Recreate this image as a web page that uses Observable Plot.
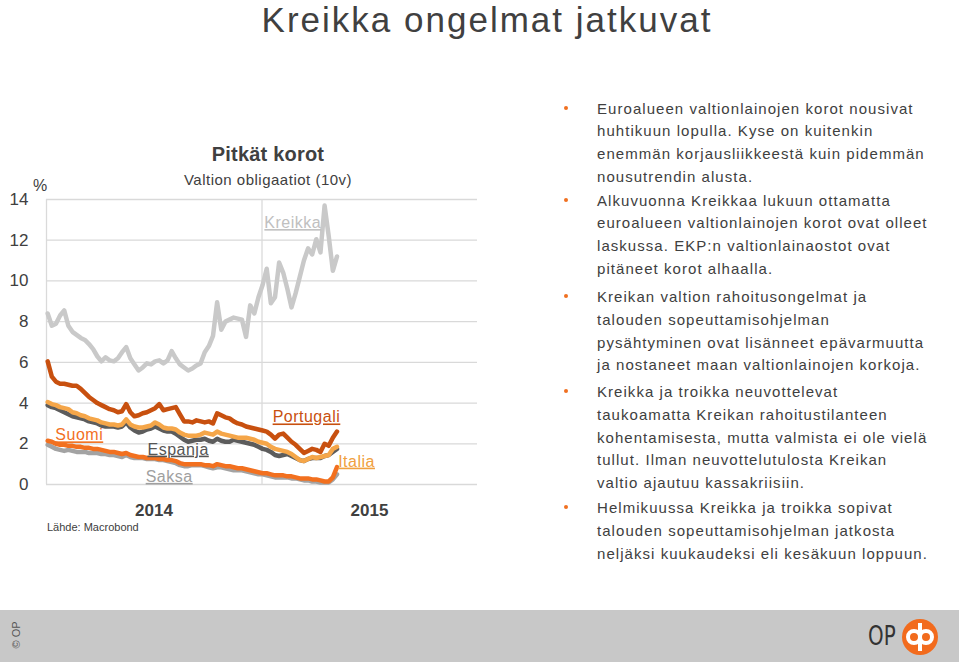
<!DOCTYPE html>
<html><head><meta charset="utf-8">
<script src="https://cdn.jsdelivr.net/npm/d3@7"></script>
<script src="https://cdn.jsdelivr.net/npm/@observablehq/plot@0.6"></script>
<style>
body{margin:0;background:#fff;font-family:"Liberation Sans",Arial,sans-serif;color:#404040;}
#page{position:relative;width:959px;height:662px;overflow:hidden;background:#fff;}
.abs{position:absolute;white-space:nowrap;}
#title{left:0;width:974px;top:0;text-align:center;font-size:35px;line-height:39px;color:#404040;letter-spacing:2px;}
#ctitle{left:148px;width:240px;top:142px;text-align:center;font-size:20px;font-weight:bold;line-height:24px;letter-spacing:0.2px;}
#csub{left:148px;width:240px;top:171px;text-align:center;font-size:15px;line-height:18px;letter-spacing:0.5px;}
#pct{left:33px;top:176px;font-size:16px;line-height:20px;}
#src{left:47px;top:520px;font-size:11px;line-height:14px;}
#chart{left:0;top:130px;}
.para{position:absolute;left:597px;font-size:15px;line-height:22.8px;letter-spacing:1.05px;color:#404040;white-space:nowrap;}
.para::before{content:"";position:absolute;left:-33px;top:8px;width:4px;height:4px;border-radius:2px;background:#f07020;}
#footer{left:0;top:610px;width:959px;height:52px;background:#c8c8c8;}
#copy{left:-6px;top:628px;width:44px;text-align:center;font-size:11px;color:#555;transform:rotate(-90deg);line-height:14px;}
#optext{left:868px;top:621px;font-family:"Liberation Sans Narrow","DejaVu Sans Condensed",sans-serif;font-size:26px;line-height:30px;color:#333;transform:scaleX(0.85);transform-origin:left center;}
#logo{left:900px;top:617px;}
svg text.lbl{text-decoration:underline dotted;}
</style>
</head><body>
<div id="page">
  <div id="title" class="abs">Kreikka ongelmat jatkuvat</div>
  <div id="ctitle" class="abs">Pitkät korot</div>
  <div id="csub" class="abs">Valtion obligaatiot (10v)</div>
  <div id="pct" class="abs">%</div>
  <div id="chart" class="abs"></div>
  <div id="src" class="abs">Lähde: Macrobond</div>

  <div class="para" style="top:97.5px">Euroalueen valtionlainojen korot nousivat<br>huhtikuun lopulla. Kyse on kuitenkin<br>enemmän korjausliikkeestä kuin pidemmän<br>nousutrendin alusta.</div>
  <div class="para" style="top:189.5px">Alkuvuonna Kreikkaa lukuun ottamatta<br>euroalueen valtionlainojen korot ovat olleet<br>laskussa. EKP:n valtionlainaostot ovat<br>pitäneet korot alhaalla.</div>
  <div class="para" style="top:286px">Kreikan valtion rahoitusongelmat ja<br>talouden sopeuttamisohjelman<br>pysähtyminen ovat lisänneet epävarmuutta<br>ja nostaneet maan valtionlainojen korkoja.</div>
  <div class="para" style="top:381px">Kreikka ja troikka neuvottelevat<br>taukoamatta Kreikan rahoitustilanteen<br>kohentamisesta, mutta valmista ei ole vielä<br>tullut. Ilman neuvottelutulosta Kreikan<br>valtio ajautuu kassakriisiin.</div>
  <div class="para" style="top:497px">Helmikuussa Kreikka ja troikka sopivat<br>talouden sopeuttamisohjelman jatkosta<br>neljäksi kuukaudeksi eli kesäkuun loppuun.</div>

  <div id="footer" class="abs"></div>
  <div id="copy" class="abs">© OP</div>
  <div id="optext" class="abs">OP</div>
  <svg id="logo" class="abs" width="40" height="40" viewBox="-20 -20 40 40">
    <circle r="18" fill="#f26b1d"/>
    <circle cx="-6" cy="0" r="6" fill="none" stroke="#fff" stroke-width="4"/>
    <circle cx="6" cy="0" r="6" fill="none" stroke="#fff" stroke-width="4"/>
    <rect x="-2" y="-14" width="4" height="28" fill="#fff"/>
  </svg>
</div>
<script>
// Weekly observations (Fridays), 2014-01-03 .. 2015-05-08
const startDate = "2014-01-03";
const endDate = "2015-05-09";

const kreikka = [8.4,7.8,7.9,8.3,8.55,7.8,7.5,7.35,7.2,7.1,6.9,6.65,6.3,6.05,6.25,6.1,6.05,6.2,6.5,6.75,6.2,5.9,5.6,5.75,5.95,5.9,6.05,6.1,5.95,6.1,6.55,6.2,5.9,5.75,5.6,5.7,5.85,5.95,6.5,6.8,7.3,8.95,7.6,8.0,8.1,8.2,8.15,8.1,7.25,8.8,8.4,9.2,9.8,10.6,8.9,9.2,10.9,10.4,9.6,8.7,9.4,10.2,11.0,11.6,11.3,12.05,11.4,13.7,12.2,10.5,11.2];
const portugali = [6.05,5.3,5.05,4.95,4.95,4.9,4.85,4.85,4.7,4.5,4.3,4.15,4.0,3.9,3.8,3.7,3.65,3.55,3.6,3.95,3.55,3.35,3.4,3.5,3.55,3.65,3.75,3.95,3.65,3.7,3.75,3.8,3.45,3.1,3.1,3.05,3.15,3.1,3.05,3.1,3.0,3.5,3.4,3.3,3.25,3.1,3.0,2.95,2.85,2.8,2.75,2.7,2.65,2.6,2.45,2.25,2.45,2.5,2.3,2.1,1.95,1.75,1.55,1.65,1.75,1.7,1.6,2.0,1.9,2.3,2.6];
const italia = [4.05,3.95,3.9,3.8,3.75,3.7,3.55,3.5,3.4,3.35,3.25,3.2,3.15,3.05,3.0,2.95,2.95,2.9,2.95,3.2,2.95,2.85,2.8,2.8,2.85,2.9,3.05,2.95,2.8,2.75,2.75,2.7,2.55,2.45,2.4,2.4,2.4,2.45,2.55,2.5,2.45,2.6,2.5,2.45,2.4,2.35,2.3,2.3,2.3,2.25,2.2,2.1,2.05,2.0,1.85,1.75,1.7,1.65,1.6,1.5,1.35,1.2,1.15,1.25,1.35,1.3,1.35,1.4,1.45,1.75,1.85];
const espanja = [3.9,3.8,3.75,3.65,3.55,3.45,3.35,3.3,3.25,3.2,3.1,3.05,3.0,2.9,2.85,2.85,2.85,2.8,2.85,3.05,2.8,2.65,2.55,2.6,2.7,2.75,2.85,2.75,2.65,2.6,2.6,2.5,2.35,2.2,2.1,2.15,2.2,2.2,2.25,2.15,2.1,2.25,2.15,2.1,2.1,2.2,2.15,2.1,2.05,2.0,1.95,1.85,1.75,1.7,1.6,1.45,1.4,1.45,1.5,1.4,1.3,1.2,1.15,1.25,1.3,1.3,1.3,1.4,1.45,1.6,1.75];
const suomi = [2.15,2.1,2.0,1.95,1.95,1.9,1.9,1.85,1.85,1.8,1.8,1.75,1.75,1.7,1.65,1.6,1.6,1.55,1.5,1.55,1.45,1.4,1.35,1.35,1.3,1.3,1.3,1.25,1.25,1.2,1.2,1.15,1.05,1.0,1.0,1.0,1.0,1.0,0.95,0.95,0.9,1.0,0.95,0.9,0.9,0.85,0.8,0.8,0.75,0.7,0.65,0.6,0.55,0.55,0.5,0.45,0.45,0.45,0.4,0.4,0.35,0.3,0.3,0.3,0.25,0.25,0.2,0.15,0.15,0.35,0.85];
const saksa = [1.95,1.85,1.75,1.7,1.65,1.7,1.65,1.6,1.6,1.6,1.55,1.55,1.55,1.5,1.5,1.45,1.45,1.4,1.35,1.45,1.35,1.3,1.3,1.3,1.25,1.25,1.25,1.2,1.2,1.15,1.1,1.05,0.95,0.9,0.9,0.95,0.95,0.95,0.9,0.85,0.8,0.85,0.85,0.8,0.75,0.7,0.7,0.7,0.65,0.6,0.55,0.5,0.5,0.45,0.4,0.35,0.35,0.35,0.35,0.3,0.3,0.25,0.2,0.2,0.15,0.15,0.1,0.1,0.1,0.25,0.5];

// drawing order (later on top)
const seriesNames = ["Saksa","Suomi","Espanja","Italia","Portugali","Kreikka"];
const seriesValues = [saksa, suomi, espanja, italia, portugali, kreikka];
const seriesColors = ["#a3a3a3","#f2701f","#5c5c5c","#f5a649","#c8500f","#c9c9c9"];

// series labels
const labelNames = ["Kreikka","Portugali","Italia","Espanja","Suomi","Saksa"];
const labelDates = ["2015-01-05","2015-01-19","2015-05-10","2014-06-21","2014-01-16","2014-06-18"];
const labelValues = [12.85,3.3,1.13,1.72,2.42,0.38];
const labelColors = ["#c0c0c0","#c8500f","#f0a040","#555555","#f2701f","#a0a0a0"];

const yTicks = [0,2,4,6,8,10,12,14];
const xGridDates = ["2014-01-01","2015-01-01"];
const yearMids = ["2014-07-02","2015-07-02"];
const yearLabels = ["2014","2015"];

const dates = d3.utcDay.range(new Date(startDate), new Date(endDate), 7);

const rows = [];
seriesNames.forEach((name, si) => {
  seriesValues[si].forEach((v, i) => rows.push({name, date: dates[i], value: v, color: seriesColors[si]}));
});
const labels = labelNames.map((n, i) => ({name: n, date: new Date(labelDates[i]), value: labelValues[i], color: labelColors[i]}));

const chart = Plot.plot({
  width: 480, height: 410,
  marginLeft: 46, marginRight: 3, marginTop: 69, marginBottom: 56,
  x: {type: "utc", domain: [new Date("2014-01-01"), new Date("2016-01-01")]},
  y: {domain: [0, 14]},
  color: {type: "identity"},
  style: {fontFamily: "'Liberation Sans', Arial, sans-serif", color: "#404040", background: "transparent", overflow: "visible"},
  marks: [
    Plot.gridY(yTicks, {stroke: "#d9d9d9", strokeOpacity: 1, strokeWidth: 1.3}),
    Plot.ruleX(xGridDates.map(d => new Date(d)), {stroke: "#dadada", strokeWidth: 1.3}),
    Plot.axisY(yTicks, {tickSize: 0, tickPadding: 18, fontSize: 17, label: null, fill: "#404040"}),
    Plot.axisX(yearMids.map(d => new Date(d)), {tickSize: 0, tickPadding: 19, fontSize: 17, fontWeight: "bold", label: null, tickFormat: (d, i) => yearLabels[i], fill: "#404040"}),
    ...seriesNames.map((name, si) => Plot.line(rows.filter(r => r.name === name), {
      x: "date", y: "value", stroke: seriesColors[si], strokeWidth: 4.5, strokeLinejoin: "round", strokeLinecap: "round"
    })),
    Plot.text(labels, {x: "date", y: "value", text: "name", fill: "color", textAnchor: "start", fontSize: 16, fontFamily: "'Liberation Sans', Arial, sans-serif"})
  ]
});
chart.querySelectorAll('g[aria-label="text"] text').forEach(t => { t.setAttribute("class", "lbl"); t.style.letterSpacing = "0.5px"; });
document.getElementById("chart").appendChild(chart);
</script>
</body></html>
